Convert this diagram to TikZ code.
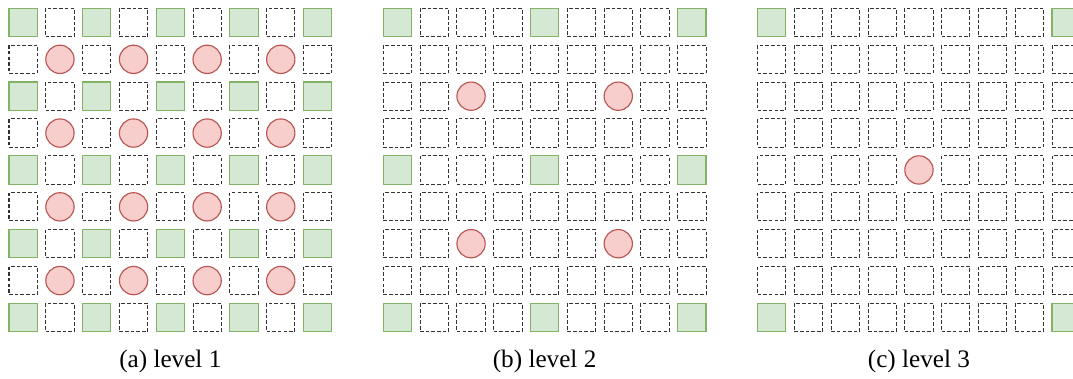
\documentclass[tikz,border=0pt]{standalone}
\usepackage{fontspec}
\setmainfont{Liberation Serif}
\definecolor{keepfill}{HTML}{D5E8D4}
\definecolor{keepline}{HTML}{82B366}
\definecolor{holefill}{HTML}{F8CECC}
\definecolor{holeline}{HTML}{B85450}
\begin{document}
\begin{tikzpicture}[x=0.397pt,y=-0.397pt,
  dashcell/.style={draw=black!80, line width=0.4pt, dash pattern=on 1.4pt off 0.85pt,
    rectangle, minimum size=28.3*0.397pt, inner sep=0pt},
  solidcell/.style={draw=keepline, fill=keepfill, line width=0.45pt,
    rectangle, minimum size=28.3*0.397pt, inner sep=0pt},
  dotcell/.style={draw=holeline, fill=holefill, line width=0.45pt,
    circle, minimum size=28.3*0.397pt, inner sep=0pt},
  caption/.style={font=\fontsize{10}{12}\selectfont, anchor=base, inner sep=0pt}]
\useasboundingbox (0,0) rectangle (1073,379);
% three 9x9 grids, one per level: solid cells every 2^l, dots halfway between
\foreach \p in {0,1,2}{
  \pgfmathtruncatemacro\s{2^(\p+1)}
  \pgfmathtruncatemacro\h{\s/2}
  \foreach \i in {0,...,8}{
    \foreach \j in {0,...,8}{
      \pgfmathtruncatemacro\mi{mod(\i,\s)}
      \pgfmathtruncatemacro\mj{mod(\j,\s)}
      \pgfmathsetmacro\cx{23.15+374.3*\p+36.8*\i}
      \pgfmathsetmacro\cy{22.45+36.875*\j}
      \def\st{dashcell}
      \ifnum\mi=0 \ifnum\mj=0 \def\st{solidcell}\fi\fi
      \ifnum\mi=\h \ifnum\mj=\h \def\st{dotcell}\fi\fi
      \node[\st] (p\p-\i-\j) at (\cx,\cy) {};
    }
  }
}
\node[caption] (cap-a) at (170.3,367) {(a) level 1};
\node[caption] (cap-b) at (544.6,367) {(b) level 2};
\node[caption] (cap-c) at (918.9,367) {(c) level 3};
\end{tikzpicture}
\end{document}
